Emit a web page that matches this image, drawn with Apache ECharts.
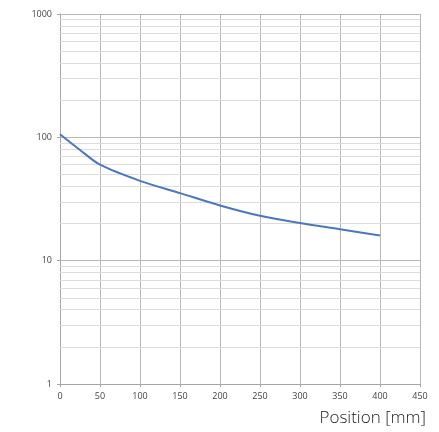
<!DOCTYPE html>
<html><head><meta charset="utf-8">
<script src="https://cdn.jsdelivr.net/npm/echarts@6/dist/echarts.min.js"></script>
<style>html,body{margin:0;padding:0;background:#fff}#c{width:439px;height:432px}</style>
</head><body><div id="c"></div>
<script>
const positions = [0, 25, 50, 100, 150, 200, 250, 300, 350, 400];
const values = [106, 79, 60, 44.4, 35.3, 28.0, 23.1, 20.2, 18.0, 16.0];
const xTicks = [0, 50, 100, 150, 200, 250, 300, 350, 400, 450];
const yTicks = [1, 10, 100, 1000];
const minorY = [2,3,4,5,6,7,8,9,20,30,40,50,60,70,80,90,200,300,400,500,600,700,800,900];
const xTitle = 'Position [mm]';

const chart = echarts.init(document.getElementById('c'));
chart.setOption({
  animation: false,
  grid: { left: 60, right: 19, top: 14, bottom: 48 },
  xAxis: {
    type: 'value', min: 0, max: 450, interval: 50,
    axisLine: { lineStyle: { color: '#a6a6a6', width: 1 } },
    axisTick: { show: true, length: 3, lineStyle: { color: '#a6a6a6' } },
    axisLabel: { color: '#444', fontSize: 9, fontFamily: 'Open Sans', margin: 8 },
    splitLine: { show: true, lineStyle: { color: '#b8b8b8', width: 1 } }
  },
  yAxis: {
    type: 'log', logBase: 10, min: 1, max: 1000,
    axisLine: { show: true, lineStyle: { color: '#a6a6a6', width: 1 } },
    axisTick: { show: true, length: 3, lineStyle: { color: '#a6a6a6' } },
    axisLabel: { color: '#444', fontSize: 9, fontFamily: 'Open Sans', margin: 8,
      formatter: v => String(Math.round(v)) },
    splitLine: { show: true, lineStyle: { color: '#b8b8b8', width: 1 } }
  },
  graphic: [{
    type: 'text', right: 13, top: 410,
    style: { text: xTitle, fill: '#222', font: '300 17px "Open Sans", "Liberation Sans", sans-serif' }
  }],
  series: [{
    type: 'line', smooth: 0.3, symbol: 'none',
    data: positions.map((p, i) => [p, values[i]]),
    lineStyle: { color: '#4a78bd', width: 2 },
    z: 5,
    markLine: {
      silent: true, symbol: 'none', label: { show: false },
      lineStyle: { color: '#dcdcdc', width: 1, type: 'solid' },
      data: minorY.map(v => ({ yAxis: v })),
      z: 1
    }
  }]
});
</script></body></html>
